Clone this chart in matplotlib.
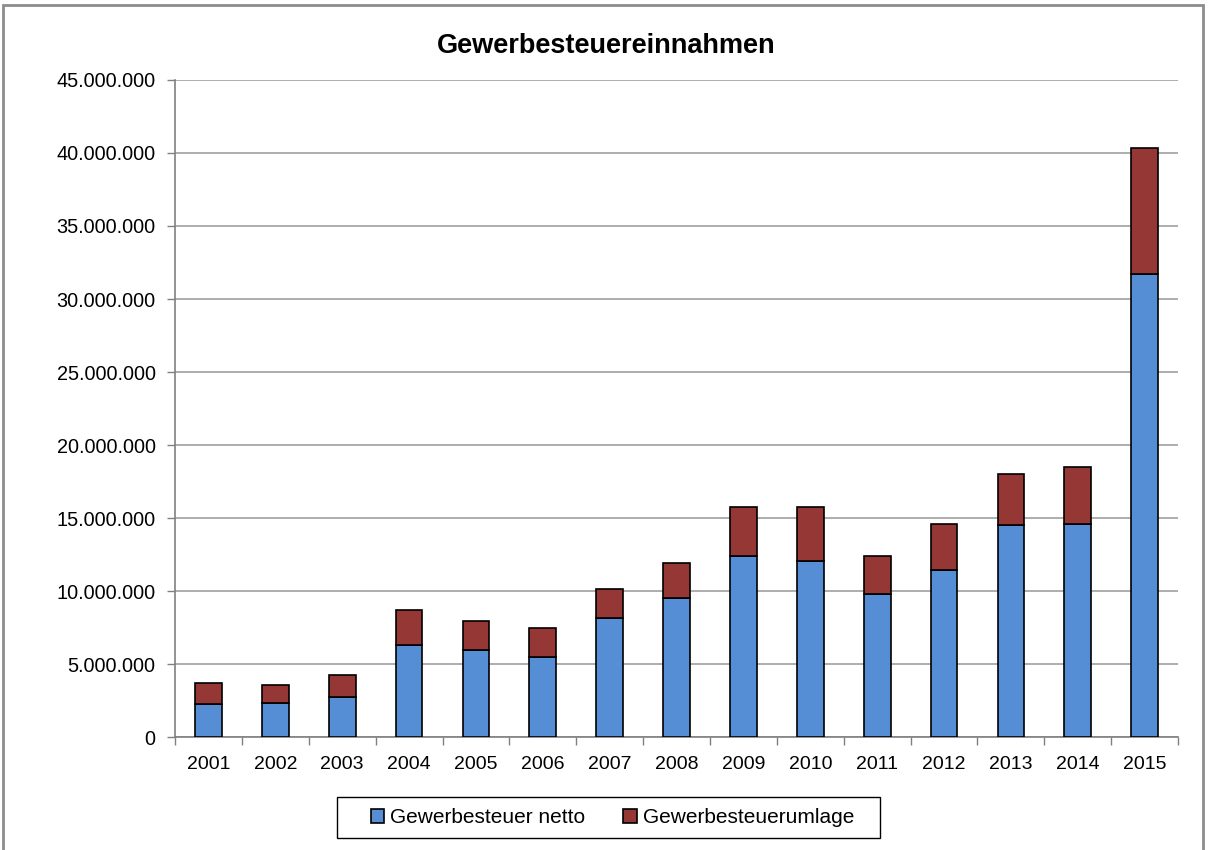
import matplotlib
matplotlib.use("Agg")
import matplotlib.pyplot as plt
from matplotlib.ticker import FuncFormatter, FixedLocator
from matplotlib.patches import Rectangle

plt.rcParams['font.family'] = ['Liberation Sans', 'DejaVu Sans']

# Daten
jahre = ['2001', '2002', '2003', '2004', '2005', '2006', '2007', '2008',
         '2009', '2010', '2011', '2012', '2013', '2014', '2015']
netto = [2.24, 2.35, 2.72, 6.31, 5.97, 5.49, 8.12, 9.49,
         12.37, 12.07, 9.83, 11.41, 14.50, 14.62, 31.70]
gesamt = [3.68, 3.59, 4.23, 8.69, 7.96, 7.45, 10.17, 11.91,
          15.73, 15.73, 12.37, 14.56, 18.04, 18.49, 40.33]
netto = [v * 1e6 for v in netto]
umlage = [g * 1e6 - n for g, n in zip(gesamt, netto)]

blau = '#558ED5'
rot = '#953735'

fig = plt.figure(figsize=(12.08, 8.5), dpi=100)
ax = fig.add_axes([0.1449, 0.1329, 0.9752 - 0.1449, 0.9059 - 0.1329])

x = range(len(jahre))
ax.bar(x, netto, width=0.4, color=blau, edgecolor='black', linewidth=1.2,
       label='Gewerbesteuer netto', zorder=3)
ax.bar(x, umlage, bottom=netto, width=0.4, color=rot, edgecolor='black',
       linewidth=1.2, label='Gewerbesteuerumlage', zorder=3)

ax.set_xlim(-0.5, len(jahre) - 0.5)
ax.set_ylim(0, 45e6)
ax.set_yticks([i * 5e6 for i in range(10)])
ax.yaxis.set_major_formatter(FuncFormatter(lambda v, p: f"{int(v):,}".replace(',', '.')))
ax.set_xticks(list(x))
ax.set_xticklabels(jahre)
ax.xaxis.set_minor_locator(FixedLocator([i - 0.5 for i in range(len(jahre) + 1)]))

ax.tick_params(axis='x', which='major', length=0, pad=14, labelsize=14)
ax.tick_params(axis='x', which='minor', length=6, color='#808080', width=1)
ax.tick_params(axis='y', length=6, color='#808080', width=1, pad=8, labelsize=14.3)

ax.grid(axis='y', color='#A0A0A0', linewidth=1.2, zorder=0)
for s in ['top', 'right']:
    ax.spines[s].set_visible(False)
for s in ['left', 'bottom']:
    ax.spines[s].set_color('#808080')
    ax.spines[s].set_linewidth(1.2)

fig.suptitle('Gewerbesteuereinnahmen', x=0.502, y=0.946, fontsize=19.5,
             fontweight='bold', va='center')

# Legende ohne eigenen Rahmen, Rahmen separat (breiter wie im Original)
leg = fig.legend(loc='center', bbox_to_anchor=(0.507, 0.038), ncol=2,
                 fontsize=15, frameon=False,
                 handlelength=0.65, handleheight=0.65, handletextpad=0.3,
                 columnspacing=1.8, borderaxespad=0)
fig.patches.append(Rectangle((337 / 1208, 12 / 850), 543 / 1208, 41 / 850,
                             transform=fig.transFigure, fill=False,
                             edgecolor='black', linewidth=1.0))

# Rahmen um das Diagramm
fig.patches.append(Rectangle((3 / 1208, -0.01), 1200 / 1208, 1 - 5 / 850 + 0.01,
                             transform=fig.transFigure, fill=False,
                             edgecolor='#8C8C8C', linewidth=2.0))

fig.savefig('out.png', dpi=100)
